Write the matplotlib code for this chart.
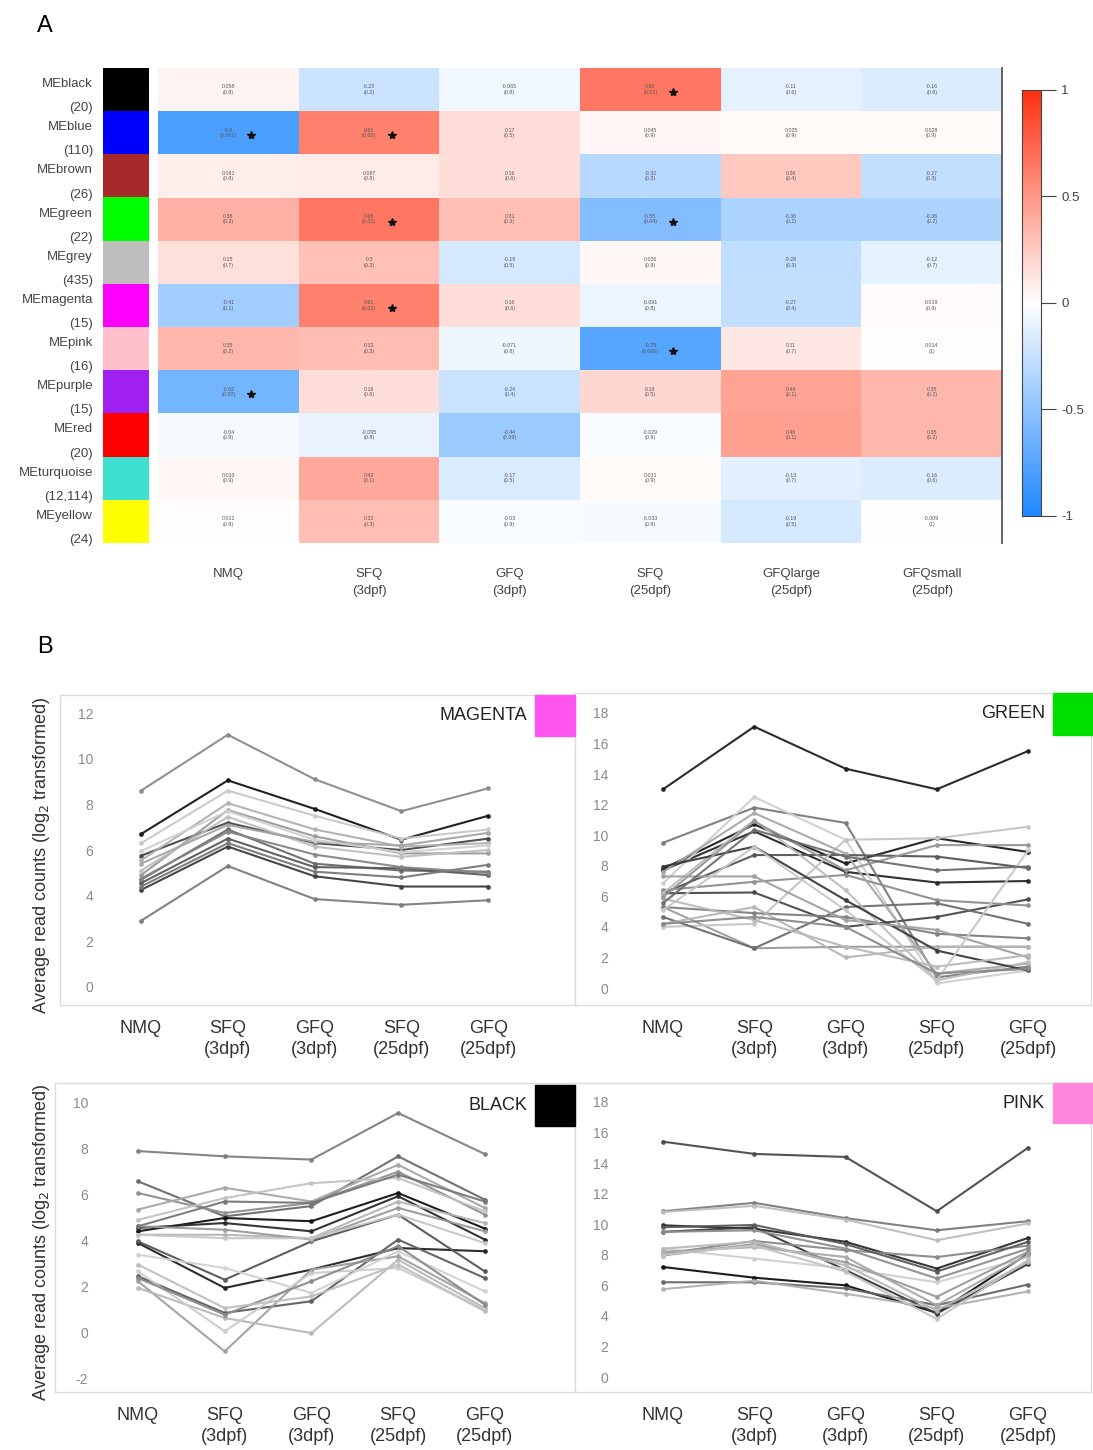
import numpy as np
import matplotlib.pyplot as plt
from matplotlib.colors import LinearSegmentedColormap

plt.rcParams['font.family'] = ['Liberation Sans', 'DejaVu Sans']
plt.rcParams['axes.unicode_minus'] = False

# ---- panel A data ----
modules = ['black', 'blue', 'brown', 'green', 'grey', 'magenta', 'pink',
           'purple', 'red', 'turquoise', 'yellow']
module_sizes = ['20', '110', '26', '22', '435', '15', '16', '15', '20', '12,114', '24']
module_colors = ['#000000', '#0000ff', '#a52a2a', '#00ff00', '#bebebe', '#ff00ff',
                 '#ffc0cb', '#a020f0', '#ff0000', '#40e0d0', '#ffff00']
traits = ['NMQ', 'SFQ\n(3dpf)', 'GFQ\n(3dpf)', 'SFQ\n(25dpf)', 'GFQlarge\n(25dpf)', 'GFQsmall\n(25dpf)']

cor = np.array([
    [0.058, -0.23, -0.065, 0.65, -0.11, -0.16],
    [-0.8, 0.61, 0.17, 0.045, 0.025, 0.028],
    [0.081, 0.087, 0.16, -0.32, 0.26, -0.27],
    [0.38, 0.65, 0.31, -0.55, -0.36, -0.36],
    [0.15, 0.3, -0.19, 0.036, -0.28, -0.12],
    [-0.41, 0.61, 0.16, -0.091, -0.27, 0.019],
    [0.35, 0.32, -0.071, -0.75, 0.11, 0.014],
    [-0.62, 0.16, -0.24, 0.19, 0.44, 0.35],
    [-0.04, -0.095, -0.44, -0.029, 0.46, 0.35],
    [0.033, 0.42, -0.17, 0.031, -0.13, -0.16],
    [0.012, 0.32, -0.03, -0.033, -0.19, -0.009],
])
pval = np.array([
    [0.8, 0.2, 0.8, 0.013, 0.6, 0.6],
    [0.001, 0.02, 0.5, 0.9, 0.9, 0.9],
    [0.8, 0.8, 0.6, 0.3, 0.4, 0.3],
    [0.2, 0.013, 0.3, 0.04, 0.2, 0.2],
    [0.7, 0.3, 0.5, 0.9, 0.3, 0.7],
    [0.1, 0.02, 0.6, 0.8, 0.4, 0.9],
    [0.2, 0.3, 0.8, 0.006, 0.7, 1],
    [0.02, 0.6, 0.4, 0.5, 0.1, 0.2],
    [0.9, 0.8, 0.09, 0.9, 0.1, 0.2],
    [0.9, 0.1, 0.5, 0.9, 0.7, 0.6],
    [0.9, 0.3, 0.9, 0.9, 0.5, 1],
])

# ---- panel B data (log2 average read counts per gene) ----
stages = ['NMQ', 'SFQ\n(3dpf)', 'GFQ\n(3dpf)', 'SFQ\n(25dpf)', 'GFQ\n(25dpf)']

magenta_genes = [
    [8.6, 11.05, 9.1, 7.7, 8.7],
    [6.7, 9.05, 7.8, 6.45, 7.5],
    [2.9, 5.3, 3.85, 3.6, 3.8],
    [4.25, 6.15, 4.85, 4.4, 4.4],
    [5.75, 7.2, 6.3, 6.0, 6.5],
    [6.3, 8.6, 7.5, 6.5, 6.9],
    [5.55, 8.05, 6.9, 6.15, 6.3],
    [4.9, 7.75, 6.6, 5.85, 5.85],
    [4.7, 6.9, 5.4, 5.1, 5.05],
    [4.55, 6.5, 5.25, 5.2, 4.9],
    [5.1, 7.45, 6.15, 5.7, 6.0],
    [4.4, 6.3, 5.05, 4.8, 5.35],
    [5.4, 7.1, 6.35, 6.2, 6.75],
    [5.95, 7.7, 6.45, 5.9, 6.2],
    [4.75, 6.8, 5.8, 5.25, 5.0],
]
magenta_shades = ['#8a8a8a', '#151515', '#7c7c7c', '#3c3c3c', '#474747', '#c9c9c9', '#b0b0b0',
                  '#9a9a9a', '#6a6a6a', '#5a5a5a', '#bdbdbd', '#777777', '#a5a5a5', '#d0d0d0', '#858585']

green_genes = [
    [13.0, 17.1, 14.35, 13.0, 15.5],
    [7.8, 10.7, 8.15, 9.8, 8.9],
    [7.7, 10.25, 7.6, 6.9, 7.0],
    [9.5, 11.8, 10.8, 0.7, 1.4],
    [6.85, 12.5, 9.7, 0.3, 1.15],
    [6.2, 8.7, 8.7, 8.6, 7.85],
    [5.3, 2.6, 2.7, 2.7, 2.7],
    [6.2, 6.25, 4.0, 4.65, 5.8],
    [4.0, 4.2, 9.7, 9.8, 10.55],
    [6.4, 6.95, 7.4, 5.75, 5.4],
    [4.65, 2.6, 5.3, 5.55, 4.2],
    [5.3, 4.9, 4.65, 3.55, 3.25],
    [4.2, 5.3, 2.0, 2.7, 2.7],
    [7.6, 11.45, 8.8, 0.95, 1.6],
    [6.2, 11.0, 6.4, 0.5, 1.7],
    [7.95, 9.25, 5.75, 2.45, 1.15],
    [7.3, 7.3, 4.45, 3.8, 2.0],
    [5.85, 4.45, 2.7, 1.4, 2.15],
    [5.95, 10.9, 7.7, 9.35, 9.35],
    [5.1, 9.25, 5.1, 0.5, 9.0],
    [5.55, 10.35, 8.6, 7.7, 7.95],
    [4.2, 4.65, 4.0, 0.95, 1.25],
]
green_shades = ['#202020', '#1c1c1c', '#262626', '#7a7a7a', '#cfcfcf', '#555555', '#9c9c9c',
                '#4a4a4a', '#c4c4c4', '#8e8e8e', '#6c6c6c', '#7f7f7f', '#b5b5b5', '#a8a8a8',
                '#bdbdbd', '#3a3a3a', '#a0a0a0', '#b9b9b9', '#969696', '#c8c8c8', '#6e6e6e', '#8a8a8a']

black_genes = [
    [7.9, 7.67, 7.53, 9.56, 7.77],
    [6.58, 5.05, 5.5, 7.67, 5.78],
    [6.07, 5.2, 5.64, 7.0, 5.13],
    [5.35, 6.3, 5.7, 7.3, 5.42],
    [4.4, 4.98, 4.84, 6.07, 4.52],
    [4.55, 4.76, 4.4, 5.93, 4.04],
    [3.89, 1.93, 2.73, 3.67, 3.53],
    [3.96, 2.29, 3.96, 5.13, 2.65],
    [4.25, 4.25, 4.1, 5.7, 4.76],
    [4.9, 5.85, 6.5, 6.73, 5.27],
    [2.44, 0.84, 1.35, 4.04, 2.36],
    [2.22, -0.84, 2.73, 3.31, 1.27],
    [1.93, 0.62, -0.04, 3.16, 1.05],
    [2.65, 0.04, 2.58, 2.8, 0.98],
    [3.38, 2.8, 1.71, 3.53, 1.78],
    [4.62, 4.47, 4.04, 5.42, 4.4],
    [2.36, 0.76, 2.22, 3.75, 1.2],
    [4.25, 4.1, 4.1, 5.13, 3.89],
    [4.62, 5.7, 5.64, 6.87, 5.7],
    [2.95, 1.05, 1.56, 2.95, 0.91],
]
black_shades = ['#7e7e7e', '#6a6a6a', '#8f8f8f', '#a7a7a7', '#101010', '#2a2a2a', '#202020',
                '#555555', '#b5b5b5', '#c2c2c2', '#5e5e5e', '#a0a0a0', '#b8b8b8', '#cccccc',
                '#d2d2d2', '#9a9a9a', '#8a8a8a', '#c6c6c6', '#777777', '#bebebe']

pink_genes = [
    [15.4, 14.6, 14.4, 10.85, 15.0],
    [10.85, 11.4, 10.4, 9.6, 10.2],
    [10.8, 11.2, 10.3, 8.95, 10.05],
    [9.93, 9.7, 8.85, 7.1, 9.1],
    [7.2, 6.5, 6.0, 4.2, 8.07],
    [9.5, 9.8, 7.0, 4.15, 7.4],
    [6.2, 6.2, 5.8, 4.7, 6.05],
    [5.75, 6.3, 5.45, 4.5, 5.6],
    [8.07, 8.9, 8.3, 7.85, 8.6],
    [8.4, 7.75, 7.1, 6.2, 7.85],
    [7.95, 8.7, 7.5, 5.25, 8.2],
    [8.2, 8.5, 7.85, 4.7, 8.0],
    [9.8, 9.95, 8.7, 6.9, 8.85],
    [9.5, 9.6, 8.4, 6.45, 8.4],
    [8.0, 8.6, 6.9, 3.8, 7.65],
    [8.4, 8.85, 7.3, 4.35, 7.55],
]
pink_shades = ['#4a4a4a', '#7a7a7a', '#bdbdbd', '#2a2a2a', '#111111', '#3a3a3a', '#666666',
               '#b0b0b0', '#8a8a8a', '#cfcfcf', '#9a9a9a', '#a8a8a8', '#5a5a5a', '#8e8e8e',
               '#c4c4c4', '#b8b8b8']

W, H = 1093, 1450
fig = plt.figure(figsize=(W / 100, H / 100), dpi=100)


def box(x0, y0, x1, y1):
    # pixel box (top-left origin) -> figure rect
    return [x0 / W, 1 - y1 / H, (x1 - x0) / W, (y1 - y0) / H]


# ================= panel A =================
fig.text(45 / W, 1 - 26 / H, 'A', fontsize=17, ha='center', va='center')

cmap = LinearSegmentedColormap.from_list('bwr_wgcna', ['#1e88ff', '#ffffff', '#ff3010'])
nr, nc = cor.shape

ax_strip = fig.add_axes(box(103, 68, 148, 543))
ax_strip.imshow(np.arange(nr).reshape(-1, 1), aspect='auto',
                cmap=LinearSegmentedColormap.from_list('mods', module_colors, N=nr),
                extent=(0, 1, nr, 0), interpolation='nearest')
ax_strip.set_xlim(0, 1)
ax_strip.set_ylim(nr, 0)
ax_strip.axis('off')
for i, (m, n) in enumerate(zip(modules, module_sizes)):
    ax_strip.text(-0.22, i + 0.37, 'ME' + m, ha='right', va='center', fontsize=9.5, color='#444444')
    ax_strip.text(-0.22, i + 0.93, '(%s)' % n, ha='right', va='center', fontsize=9.5, color='#444444')

ax_hm = fig.add_axes(box(158, 68, 1002, 543))
ax_hm.pcolormesh(np.arange(nc + 1), np.arange(nr + 1), cor, cmap=cmap, vmin=-1, vmax=1)
ax_hm.set_xlim(0, nc)
ax_hm.set_ylim(nr, 0)
ax_hm.set_xticks([])
ax_hm.set_yticks([])
for s in ['top', 'bottom', 'left']:
    ax_hm.spines[s].set_visible(False)
ax_hm.spines['right'].set_color('#555555')
ax_hm.spines['right'].set_linewidth(1.3)
for i in range(nr):
    for j in range(nc):
        ax_hm.text(j + 0.5, i + 0.5, '%.2g\n(%.1g)' % (cor[i, j], pval[i, j]),
                   ha='center', va='center', fontsize=3.8, color='#555555', linespacing=1.1)
        if pval[i, j] < 0.05:
            ax_hm.plot(j + 0.66, i + 0.56, marker='*', ms=6, color='#111111')
for j, t in enumerate(traits):
    ax_hm.text(j + 0.5, nr + 0.58, t, ha='center', va='top', fontsize=9.5, color='#444444',
               linespacing=1.55)

ax_cb = fig.add_axes(box(1022, 90, 1041, 516))
grad = np.linspace(-1, 1, 256).reshape(-1, 1)
ax_cb.imshow(grad, aspect='auto', cmap=cmap, origin='lower', extent=(0, 1, -1, 1))
ax_cb.set_xticks([])
ax_cb.yaxis.tick_right()
ax_cb.set_yticks([1, 0.5, 0, -0.5, -1])
ax_cb.set_yticklabels(['1', '0.5', '0', '-0.5', '-1'])
ax_cb.tick_params(axis='y', length=11, width=0.8, colors='#444444', labelsize=9.5)
for s in ax_cb.spines.values():
    s.set_color('#444444')
    s.set_linewidth(0.8)

# ================= panel B =================
fig.text(45 / W, 1 - 647 / H, 'B', fontsize=17, ha='center', va='center')


def draw_panel(rect, genes, shades, xlim, ylim, yticks, name, boxcol, boxrect):
    ax = fig.add_axes(box(*rect))
    for g, c in zip(genes, shades):
        ax.plot(range(len(stages)), g, color=c, lw=1.5, marker='o', ms=3.4,
                markeredgewidth=0, alpha=0.95)
    ax.set_xlim(*xlim)
    ax.set_ylim(*ylim)
    ax.set_yticks(yticks)
    ax.tick_params(axis='y', length=0, pad=-24, labelsize=10, labelcolor='#8a8a8a')
    ax.set_xticks(range(len(stages)))
    ax.set_xticklabels(stages, fontsize=13, color='#333333', linespacing=1.3)
    ax.tick_params(axis='x', length=0, pad=11)
    for s in ax.spines.values():
        s.set_color('#dcdcdc')
        s.set_linewidth(1)
    fig.patches.append(plt.Rectangle((boxrect[0] / W, 1 - boxrect[3] / H),
                                     (boxrect[2] - boxrect[0]) / W, (boxrect[3] - boxrect[1]) / H,
                                     transform=fig.transFigure, color=boxcol, zorder=5))
    fig.text((boxrect[0] - 8) / W, 1 - (boxrect[1] + boxrect[3]) / 2 / H, name,
             ha='right', va='center', fontsize=13, color='#222222')
    return ax


draw_panel((60, 695, 575, 1005), magenta_genes, magenta_shades, (-0.934, 5.0), (-0.79, 12.79),
           range(0, 13, 2), 'MAGENTA', '#ff55ee', (535, 695, 575, 736))
draw_panel((575, 693, 1091, 1005), green_genes, green_shades, (-0.964, 4.69), (-1.11, 19.3),
           range(0, 19, 2), 'GREEN', '#00e000', (1053, 693, 1093, 735))
draw_panel((55, 1083, 575, 1392), black_genes, black_shades, (-0.957, 5.04), (-2.61, 10.87),
           range(-2, 11, 2), 'BLACK', '#000000', (535, 1085, 575, 1126))
draw_panel((575, 1083, 1091, 1392), pink_genes, pink_shades, (-0.964, 4.69), (-0.98, 19.24),
           range(0, 19, 2), 'PINK', '#ff88dd', (1053, 1083, 1093, 1123))

ylab = 'Average read counts (log$_2$ transformed)'
fig.text(42 / W, 1 - 855 / H, ylab, rotation=90, ha='center', va='center', fontsize=13, color='#333333')
fig.text(42 / W, 1 - 1242 / H, ylab, rotation=90, ha='center', va='center', fontsize=13, color='#333333')

fig.savefig('out.png', dpi=100)
